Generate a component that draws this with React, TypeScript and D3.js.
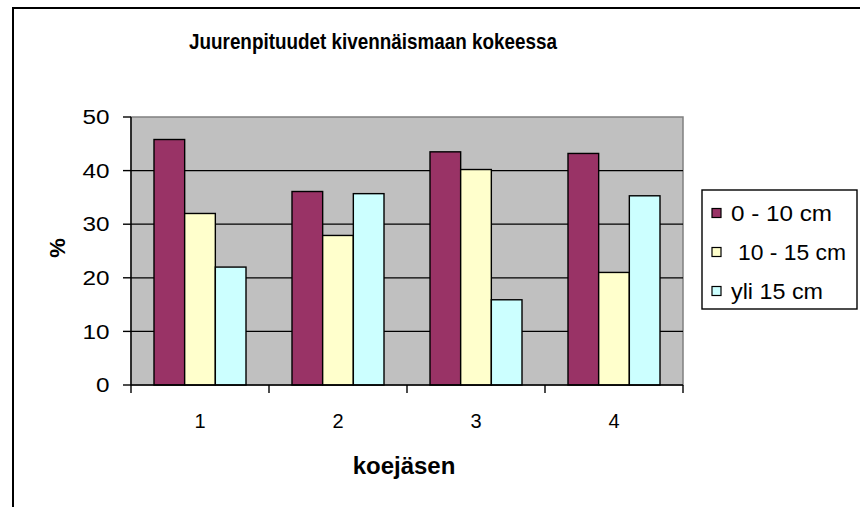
import React from 'react'
import * as d3 from "d3";

const categories = ["1", "2", "3", "4"];
const seriesNames = ["0 - 10 cm", " 10 - 15 cm", "yli 15 cm"];
const colors = ["#993366", "#FFFFCC", "#CCFFFF"];
const values0to10 = [45.8, 36.1, 43.5, 43.2];
const values10to15 = [32.0, 27.9, 40.2, 21.0];
const valuesOver15 = [22.0, 35.7, 15.9, 35.3];
const yTicks = [0, 10, 20, 30, 40, 50];

const seriesValues = [values0to10, values10to15, valuesOver15];

const App = () => {
  const width = 860;
  const height = 507;
  const plot = { left: 131, right: 683, top: 117, bottom: 385 };
  const font = "'Liberation Sans', Arial, sans-serif";

  const x0 = d3.scaleBand().domain(categories).range([plot.left, plot.right]);
  const x1 = d3.scaleBand<number>().domain(d3.range(seriesNames.length))
    .range([0, x0.bandwidth()]).paddingOuter(0.75);
  const y = d3.scaleLinear().domain([0, 50]).range([plot.bottom, plot.top]);

  // boundaries between categories for x ticks
  const xBounds = categories.map(c => x0(c)!).concat([plot.right]);
  const legendWidths = [101, 108, 92];

  return (
    <div style={{ position: 'absolute', left: 0, top: 0 }}>
      <svg width={width} height={height} style={{ display: 'block' }}>
        <rect x={0} y={0} width={width} height={height} fill="white" />
        {/* chart frame */}
        <rect x={13} y={8} width={width + 20} height={height + 20} fill="none" stroke="black" strokeWidth={2} />

        <text x={189} y={49} fontFamily={font} fontWeight="bold" fontSize={22}
          textLength={368} lengthAdjust="spacingAndGlyphs">
          Juurenpituudet kivennäismaan kokeessa
        </text>

        {/* plot area */}
        <rect x={plot.left} y={plot.top} width={plot.right - plot.left} height={plot.bottom - plot.top}
          fill="#C0C0C0" stroke="#808080" strokeWidth={1.5} />

        {/* gridlines */}
        {yTicks.filter(t => t > 0 && t < 50).map(t => (
          <line key={t} x1={plot.left} x2={plot.right} y1={y(t)} y2={y(t)} stroke="black" strokeWidth={1.3} />
        ))}

        {/* bars */}
        {categories.map((c, ci) => (
          <g key={c} transform={`translate(${x0(c)},0)`}>
            {seriesValues.map((vals, si) => (
              <rect key={si} x={x1(si)} y={y(vals[ci])} width={x1.bandwidth()}
                height={y(0) - y(vals[ci])} fill={colors[si]} stroke="black" strokeWidth={1.4} />
            ))}
          </g>
        ))}

        {/* y axis */}
        <line x1={plot.left} x2={plot.left} y1={plot.top} y2={plot.bottom} stroke="black" strokeWidth={1.4} />
        {yTicks.map(t => (
          <g key={t}>
            <line x1={plot.left - 8} x2={plot.left} y1={y(t)} y2={y(t)} stroke="black" strokeWidth={1.4} />
            <text x={109.5} y={y(t)} dy="0.36em" textAnchor="end" fontFamily={font} fontSize={20}
              textLength={13.5 * String(t).length} lengthAdjust="spacingAndGlyphs">{t}</text>
          </g>
        ))}

        {/* x axis */}
        <line x1={plot.left} x2={plot.right} y1={plot.bottom} y2={plot.bottom} stroke="black" strokeWidth={1.4} />
        {xBounds.map((b, i) => (
          <line key={i} x1={b} x2={b} y1={plot.bottom} y2={plot.bottom + 8} stroke="black" strokeWidth={1.4} />
        ))}
        {categories.map(c => (
          <text key={c} x={x0(c)! + x0.bandwidth() / 2} y={428} textAnchor="middle" fontFamily={font} fontSize={20}>{c}</text>
        ))}

        <text x={404} y={474} textAnchor="middle" fontFamily={font} fontWeight="bold" fontSize={24}>koejäsen</text>
        <text transform={`translate(65,248) rotate(-90)`} textAnchor="middle"
          fontFamily={font} fontWeight="bold" fontSize={22}>%</text>

        {/* legend */}
        <rect x={702} y={190} width={155} height={119} fill="white" stroke="black" strokeWidth={1.4} />
        {seriesNames.map((s, i) => {
          const label = s.trim();
          const lead = s.length - label.length;
          return (
            <g key={s} transform={`translate(712,${213 + i * 39})`}>
              <rect x={0} y={-4.5} width={9} height={9} fill={colors[i]} stroke="black" strokeWidth={1.2} />
              <text x={19 + lead * 7} y={0} dy="0.36em" fontFamily={font} fontSize={22}
                textLength={legendWidths[i]} lengthAdjust="spacingAndGlyphs">{label}</text>
            </g>
          );
        })}
      </svg>
    </div>
  )
}

export default App;
